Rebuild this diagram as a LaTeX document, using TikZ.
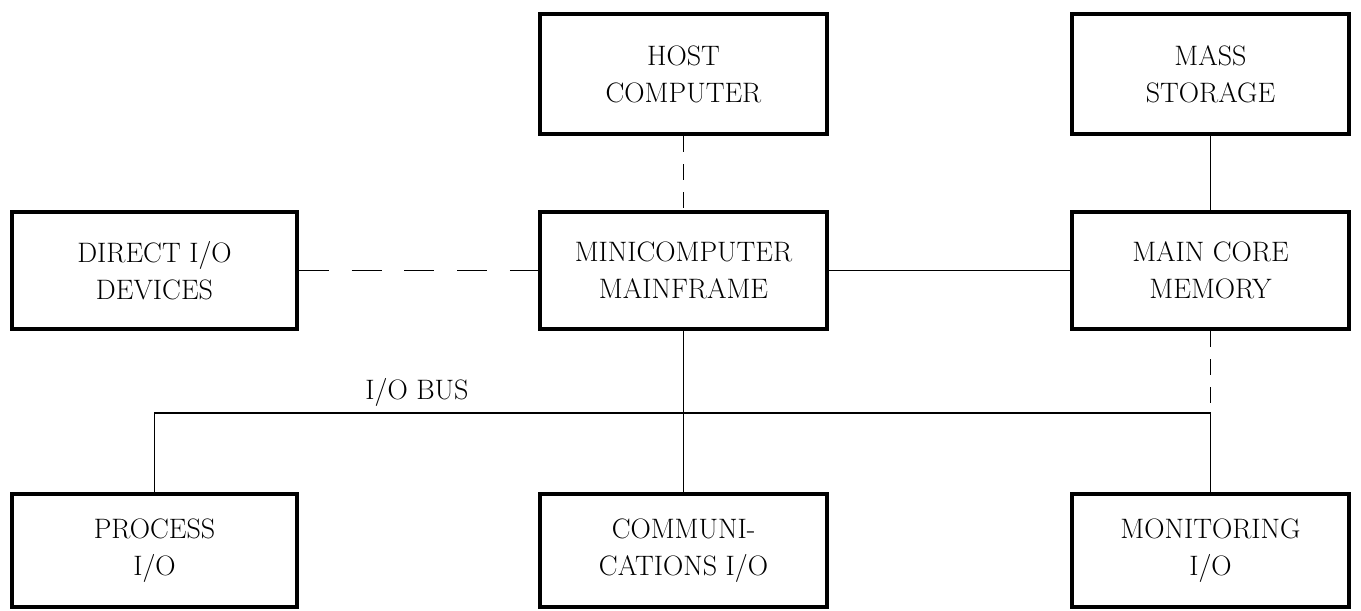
\documentclass[tikz,border=0pt]{standalone}
\usepackage{tikz}
\usetikzlibrary{shapes}
\tikzstyle{unit}=[rectangle,draw=black,line width=2.2pt,align=center,inner sep=0pt,minimum width=5.7cm,minimum height=2.34cm,font=\fontsize{16}{21}\selectfont]
\tikzstyle{link}=[line width=1.1pt]
\tikzstyle{optional}=[line width=1.1pt,dash pattern=on 17pt off 13pt]
\tikzstyle{optionalv}=[line width=1.1pt,dash pattern=on 9pt off 7pt]
\tikzstyle{tag}=[font=\fontsize{16}{21}\selectfont]

\begin{document}
\begin{tikzpicture}
        \useasboundingbox (0,0) rectangle (27.22,12.22);

        \node at (13.67,10.74) [unit,minimum width=5.74cm,minimum height=2.4cm] (host)    {HOST\\COMPUTER};
        \node at (24.21,10.74) [unit,minimum width=5.54cm,minimum height=2.4cm] (mass)    {MASS\\STORAGE};
        \node at (3.09,6.81)   [unit]                                           (direct)  {DIRECT I/O\\DEVICES};
        \node at (13.67,6.81)  [unit,minimum width=5.74cm]                      (mini)    {MINICOMPUTER\\MAINFRAME};
        \node at (24.21,6.81)  [unit,minimum width=5.54cm]                      (core)    {MAIN CORE\\MEMORY};
        \node at (3.09,1.21)   [unit,minimum height=2.26cm]                     (process) {PROCESS\\I/O};
        \node at (13.67,1.21)  [unit,minimum width=5.74cm,minimum height=2.26cm] (comms)  {COMMUNI-\\CATIONS I/O};
        \node at (24.21,1.21)  [unit,minimum width=5.54cm,minimum height=2.26cm] (monitor) {MONITORING\\I/O};

        \coordinate (busl) at (3.09,3.96);
        \coordinate (busr) at (24.21,3.96);
        \node at (8.34,4.38) [tag] (bus) {I/O BUS};

        \draw [optionalv] (host) -- (mini);
        \draw [optional] (direct) -- (mini);
        \draw [link] (mini) -- (core);
        \draw [link] (mass) -- (core);
        \draw [link] (mini) -- (comms);
        \draw [link] (process) -- (busl) -- (busr) -- (monitor);
        \draw [optionalv] (core) -- (busr);
      \end{tikzpicture}
\end{document}
